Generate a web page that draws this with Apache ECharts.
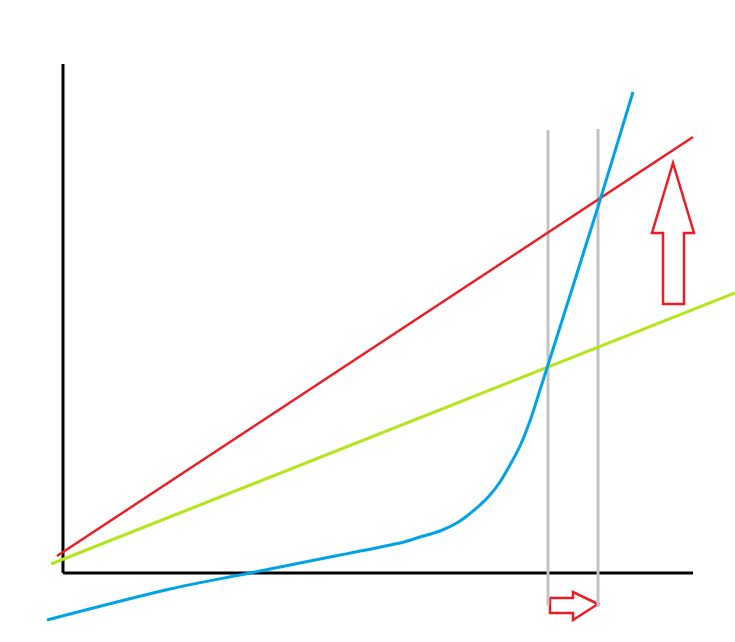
<!DOCTYPE html>
<html>
<head>
<meta charset="utf-8">
<script src="https://cdn.jsdelivr.net/npm/echarts@6/dist/echarts.min.js"></script>
<style>
  html, body { margin: 0; padding: 0; background: #fff; }
  #chart { width: 735px; height: 642px; }
</style>
</head>
<body>
<div id="chart"></div>
<script>
// units: 1 = 10px of the sketch, origin at the axes corner
const xAxisLine = [[0, 0], [63.0, 0]]
const yAxisLine = [[0, 0], [0, 50.9]]
const redLine = [[-0.6, 1.7], [63.0, 43.6]]
const greenLine = [[-1.2, 0.9], [67.2, 28.0]]
const blueCurve = [
  [-1.6, -4.7], [10.7, -1.6], [18.7, 0], [26.7, 1.6], [33.7, 3.0], [35.7, 3.6],
  [37.7, 4.2], [39.7, 5.2], [41.7, 6.8], [42.7, 7.8], [43.7, 9.1], [44.7, 10.8],
  [45.7, 12.7], [46.7, 15.2], [47.7, 18.3], [48.4, 20.5], [53.4, 36.3], [57.0, 48.1]
]
const grayLeft = [[48.5, -3.2], [48.5, 44.3]]
const grayRight = [[53.5, -3.4], [53.5, 44.4]]
const arrowUp = [
  [61.0, 41.0], [63.1, 34.0], [62.1, 34.0], [62.1, 26.9],
  [60.0, 26.9], [60.0, 34.0], [58.9, 34.0]
]
const arrowRight = [
  [53.5, -3.1], [51.0, -1.9], [51.0, -2.5], [48.7, -2.5],
  [48.7, -4.0], [51.0, -4.0], [51.0, -4.7]
]

const chart = echarts.init(document.getElementById('chart'))

const lineSeries = (data, color, width, smooth) => ({
  type: 'line',
  data: data,
  smooth: smooth || false,
  symbol: 'none',
  clip: false,
  silent: true,
  lineStyle: { color: color, width: width }
})

const arrowSeries = pts => ({
  type: 'custom',
  data: [[0, 0]],
  silent: true,
  renderItem: (params, api) => ({
    type: 'polygon',
    shape: { points: pts.map(p => api.coord(p)) },
    style: { fill: '#fff', stroke: '#ed1c24', lineWidth: 2.5 }
  })
})

const hiddenAxis = {
  type: 'value',
  axisLine: { show: false },
  axisTick: { show: false },
  axisLabel: { show: false },
  splitLine: { show: false }
}

const option = {
  animation: false,
  backgroundColor: '#fff',
  // the grid covers the whole canvas so marks can run past the drawn axes
  grid: { left: 0, top: 0, width: 735, height: 642 },
  xAxis: Object.assign({}, hiddenAxis, { min: -6.3, max: 67.2 }),
  yAxis: Object.assign({}, hiddenAxis, { min: -6.9, max: 57.3 }),
  series: [
    lineSeries(xAxisLine, '#000', 3),
    lineSeries(yAxisLine, '#000', 3),
    lineSeries(grayLeft, '#c3c3c3', 3),
    lineSeries(grayRight, '#c3c3c3', 3),
    lineSeries(redLine, '#ed1c24', 2.5),
    lineSeries(greenLine, '#b5e61d', 3),
    lineSeries(blueCurve, '#00a2e8', 3, 0.3),
    arrowSeries(arrowUp),
    arrowSeries(arrowRight)
  ]
}

chart.setOption(option)
</script>
</body>
</html>
